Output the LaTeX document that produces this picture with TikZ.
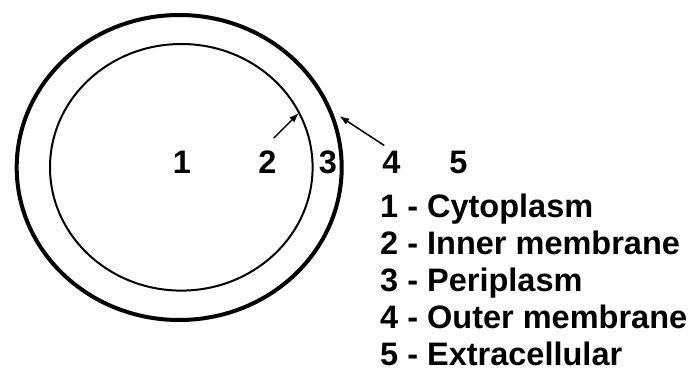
\documentclass[tikz,border=0pt]{standalone}
\usepackage{fontspec}
\setmainfont{Liberation Sans}
\usetikzlibrary{positioning, arrows.meta, shapes.geometric}

\begin{document}
\begin{tikzpicture}[
  x=1pt, y=1pt,
  font=\fontsize{32.5}{37}\selectfont\bfseries,
  wall/.style={draw=black, ellipse, inner sep=0pt},
  num/.style={inner sep=0pt, anchor=base},
  keyline/.style={inner sep=0pt, anchor=base west},
  pointer/.style={-{Latex[length=10pt,width=7pt]}, line width=1.5pt, draw=black}
]
\useasboundingbox (0,0) rectangle (691,373);

% --- cell envelope: outer and inner membrane ---
\node[wall, line width=4pt, minimum width=325pt, minimum height=305pt] (outerwall) at (179.2,205.5) {};
\node[wall, line width=2pt, minimum width=262.6pt, minimum height=246.6pt] (innerwall) at (181.3,205.7) {};

% --- compartment numbers ---
\node[num] (n1) at (182,200) {1};
\node[num] (n2) at (267.5,200) {2};
\node[num] (n3) at (328,200) {3};
\node[num] (n4) at (391.5,200) {4};
\node[num] (n5) at (458.5,200) {5};

% pointers onto the two membranes
\draw[pointer, shorten >=1pt] ([xshift=-3pt,yshift=12pt]n2.north east) -- (innerwall.25);
\draw[pointer, shorten >=8pt] ([shift={(2pt,5pt)}]n4.north west) -- (outerwall.20);

% --- key ---
\node[keyline] (key1) at (380,156) {1 - Cytoplasm};
\node[keyline] (key2) at (380,119) {2 - Inner membrane};
\node[keyline] (key3) at (380,82)  {3 - Periplasm};
\node[keyline] (key4) at (380,45)  {4 - Outer membrane};
\node[keyline] (key5) at (380,8)   {5 - Extracellular};

\end{tikzpicture}
\end{document}
